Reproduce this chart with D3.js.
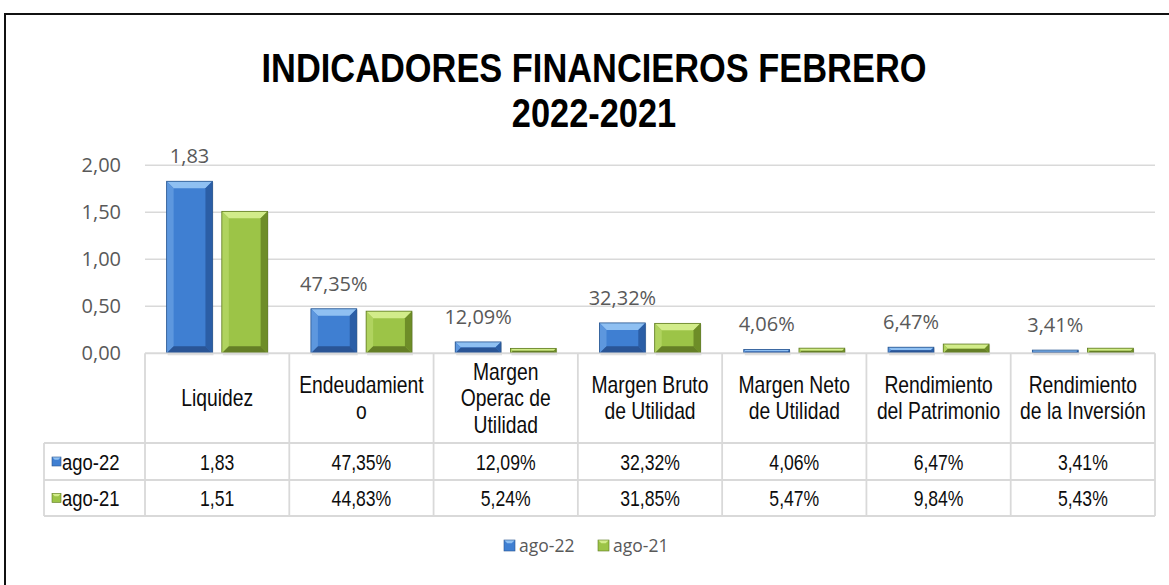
<!DOCTYPE html>
<html>
<head>
<meta charset="utf-8">
<script src="https://cdn.jsdelivr.net/npm/d3@7"></script>
<style>
  body { margin: 0; background: #fff; }
  svg { display: block; }
</style>
</head>
<body>
<div id="chart"></div>
<script>
(function finChart(){

  // data
  var categories = ['Liquidez', 'Endeudamient\no', 'Margen\nOperac de\nUtilidad', 'Margen Bruto\nde Utilidad',
                    'Margen Neto\nde Utilidad', 'Rendimiento\ndel Patrimonio', 'Rendimiento\nde la Inversión'];
  var isPercent = [false, true, true, true, true, true, true];
  var series = ['ago-22', 'ago-21'];
  var ago22 = [1.83, 0.4735, 0.1209, 0.3232, 0.0406, 0.0647, 0.0341];
  var ago21 = [1.51, 0.4483, 0.0524, 0.3185, 0.0547, 0.0984, 0.0543];
  var yTicks = [0, 0.5, 1, 1.5, 2];
  var titleLines = ['INDICADORES FINANCIEROS FEBRERO', '2022-2021'];

  var seriesValues = [ago22, ago21];
  var colors = {
    'ago-22': {face: '#3f7fd2', top: '#8fc0f2', left: '#5d97de', right: '#2b5ea6', bottom: '#2a5596', line: '#28558f'},
    'ago-21': {face: '#9cc447', top: '#d2ec8a', left: '#b0d35f', right: '#6e8d28', bottom: '#657f26', line: '#5f7a22'}
  };

  var W = 1169, H = 585;
  var plot = {left: 145, right: 1155, top: 165.3, bottom: 353.3};
  var table = {left: 44, headBottom: 443, row1: 480, row2: 516};

  var loc = d3.formatLocale({decimal: ',', thousands: '.', grouping: [3], currency: ['', '']});
  var fNum = loc.format('.2f');
  var fPct = loc.format('.2%');
  function fmt(v, i){ return isPercent[i] ? fPct(v) : fNum(v); }

  var svg = d3.select('#chart').append('svg')
      .attr('width', W).attr('height', H);

  svg.append('rect').attr('width', W).attr('height', H).attr('fill', '#fff');

  // outer frame (only top/left visible)
  svg.append('rect')
      .attr('x', 5).attr('y', 14)
      .attr('width', 1300).attr('height', 700)
      .attr('fill', 'none').attr('stroke', '#111').attr('stroke-width', 2);

  // title
  svg.selectAll('.title')
      .data(titleLines)
      .enter().append('text')
      .attr('class', 'title')
      .attr('transform', function(d, i){ return 'translate(594,' + (82 + i * 45) + ') scale(0.86,1)'; })
      .attr('text-anchor', 'middle')
      .style('font-family', '"Liberation Sans", Arial, sans-serif')
      .style('font-weight', 'bold')
      .style('font-size', '40px')
      .attr('fill', '#000')
      .text(function(d){ return d; });

  // scales
  var x = d3.scaleBand().domain(categories).range([plot.left, plot.right]);
  var bw = x.bandwidth();
  var x1 = d3.scaleBand().domain(series).range([bw * 0.15, bw * 0.85]).paddingInner(0.17);
  var y = d3.scaleLinear().domain([0, 2]).range([plot.bottom, plot.top]);

  // gridlines + y axis
  var yAxis = d3.axisLeft(y).tickValues(yTicks).tickFormat(fNum).tickSize(0).tickPadding(24);
  var gy = svg.append('g')
      .attr('transform', 'translate(' + plot.left + ',0)')
      .call(yAxis);
  gy.select('.domain').remove();
  gy.selectAll('text')
      .style('font-family', '"Open Sans", sans-serif')
      .style('font-size', '20px')
      .attr('fill', '#595959');

  svg.append('g').selectAll('line')
      .data(yTicks)
      .enter().append('line')
      .attr('x1', plot.left).attr('x2', plot.right)
      .attr('y1', function(d){ return y(d); })
      .attr('y2', function(d){ return y(d); })
      .attr('stroke', '#d9d9d9').attr('stroke-width', 1.5);

  // bars with bevel
  var barData = [];
  categories.forEach(function(c, i){
    series.forEach(function(s, j){
      barData.push({cat: c, s: s, v: seriesValues[j][i], i: i});
    });
  });

  var bars = svg.append('g').selectAll('g')
      .data(barData)
      .enter().append('g');

  bars.each(function(d){
    var g = d3.select(this);
    var c = colors[d.s];
    var x0 = x(d.cat) + x1(d.s), w = x1.bandwidth();
    var y0 = y(d.v), h = y(0) - y(d.v);
    var b = Math.min(7, h / 2, w / 2);
    // shadow
    g.append('rect').attr('x', x0 + 1).attr('y', y0 + 1).attr('width', w).attr('height', h + 1)
        .attr('fill', '#000').attr('opacity', 0.12);
    g.append('rect').attr('x', x0).attr('y', y0).attr('width', w).attr('height', h).attr('fill', c.face);
    function poly(pts, fill){
      g.append('polygon').attr('points', pts.map(function(p){ return p.join(','); }).join(' ')).attr('fill', fill);
    }
    poly([[x0, y0], [x0 + w, y0], [x0 + w - b, y0 + b], [x0 + b, y0 + b]], c.top);
    poly([[x0, y0], [x0 + b, y0 + b], [x0 + b, y0 + h - b], [x0, y0 + h]], c.left);
    poly([[x0 + w, y0], [x0 + w - b, y0 + b], [x0 + w - b, y0 + h - b], [x0 + w, y0 + h]], c.right);
    poly([[x0, y0 + h], [x0 + b, y0 + h - b], [x0 + w - b, y0 + h - b], [x0 + w, y0 + h]], c.bottom);
    g.append('rect').attr('x', x0).attr('y', y0).attr('width', w).attr('height', h)
        .attr('fill', 'none').attr('stroke', c.line).attr('stroke-width', 0.8);
  });

  // data labels (ago-22 only)
  svg.append('g').selectAll('text')
      .data(ago22)
      .enter().append('text')
      .attr('x', function(d, i){ return x(categories[i]) + x1('ago-22') + x1.bandwidth() / 2; })
      .attr('y', function(d){ return y(d) - 18; })
      .attr('text-anchor', 'middle')
      .style('font-family', '"Open Sans", sans-serif')
      .style('font-size', '20px')
      .attr('fill', '#595959')
      .text(function(d, i){ return fmt(d, i); });

  // data table
  var grid = svg.append('g').attr('stroke', '#d9d9d9').attr('stroke-width', 1.8);
  grid.append('line').attr('x1', plot.left).attr('x2', plot.right).attr('y1', plot.bottom).attr('y2', plot.bottom);
  [table.headBottom, table.row1, table.row2].forEach(function(yy){
    grid.append('line').attr('x1', table.left).attr('x2', plot.right).attr('y1', yy).attr('y2', yy);
  });
  grid.append('line').attr('x1', table.left).attr('x2', table.left).attr('y1', table.headBottom).attr('y2', table.row2);
  categories.forEach(function(c){
    grid.append('line').attr('x1', x(c)).attr('x2', x(c)).attr('y1', plot.bottom).attr('y2', table.row2);
  });
  grid.append('line').attr('x1', plot.right).attr('x2', plot.right).attr('y1', plot.bottom).attr('y2', table.row2);

  function tableText(parent, tx, ty, str, anchor, size, sx){
    return parent.append('text')
        .attr('transform', 'translate(' + tx + ',' + ty + ') scale(' + (sx || 0.8) + ',1)')
        .attr('text-anchor', anchor || 'middle')
        .style('font-family', '"Liberation Sans", Arial, sans-serif')
        .style('font-size', (size || 22) + 'px')
        .attr('fill', '#0d0d0d')
        .text(str);
  }

  var tg = svg.append('g');
  var headMid = (plot.bottom + table.headBottom) / 2;
  categories.forEach(function(c, i){
    var lines = c.split('\n');
    var lh = 26.5;
    var cx = x(c) + bw / 2;
    lines.forEach(function(l, k){
      var by = headMid + (k - (lines.length - 1) / 2) * lh + 8;
      tableText(tg, cx, by, l, 'middle', 23, 0.84);
    });
    tableText(tg, cx, (table.headBottom + table.row1) / 2 + 8, fmt(ago22[i], i));
    tableText(tg, cx, (table.row1 + table.row2) / 2 + 8, fmt(ago21[i], i));
  });

  // legend key helper
  function key(parent, kx, ky, s, size){
    var c = colors[s];
    var b = size * 0.3;
    parent.append('rect').attr('x', kx).attr('y', ky).attr('width', size).attr('height', size).attr('fill', c.face);
    parent.append('polygon')
        .attr('points', [[kx, ky], [kx + size, ky], [kx + size - b, ky + b], [kx + b, ky + b]].map(function(p){ return p.join(','); }).join(' '))
        .attr('fill', c.top);
    parent.append('rect').attr('x', kx).attr('y', ky).attr('width', size).attr('height', size)
        .attr('fill', 'none').attr('stroke', c.line).attr('stroke-width', 0.6);
  }

  // row headers
  var rowMids = [(table.headBottom + table.row1) / 2, (table.row1 + table.row2) / 2];
  series.forEach(function(s, j){
    key(tg, 52, rowMids[j] - 4.5, s, 9);
    tableText(tg, 62, rowMids[j] + 8, s, 'start', 22, 0.84);
  });

  // bottom legend
  var lg = svg.append('g');
  var legX = [504, 598];
  series.forEach(function(s, j){
    key(lg, legX[j], 540, s, 11);
    lg.append('text')
        .attr('x', legX[j] + 15).attr('y', 552)
        .style('font-family', '"Open Sans", sans-serif')
        .style('font-size', '17.5px')
        .attr('fill', '#595959')
        .text(s);
  });

})();
</script>
</body>
</html>
